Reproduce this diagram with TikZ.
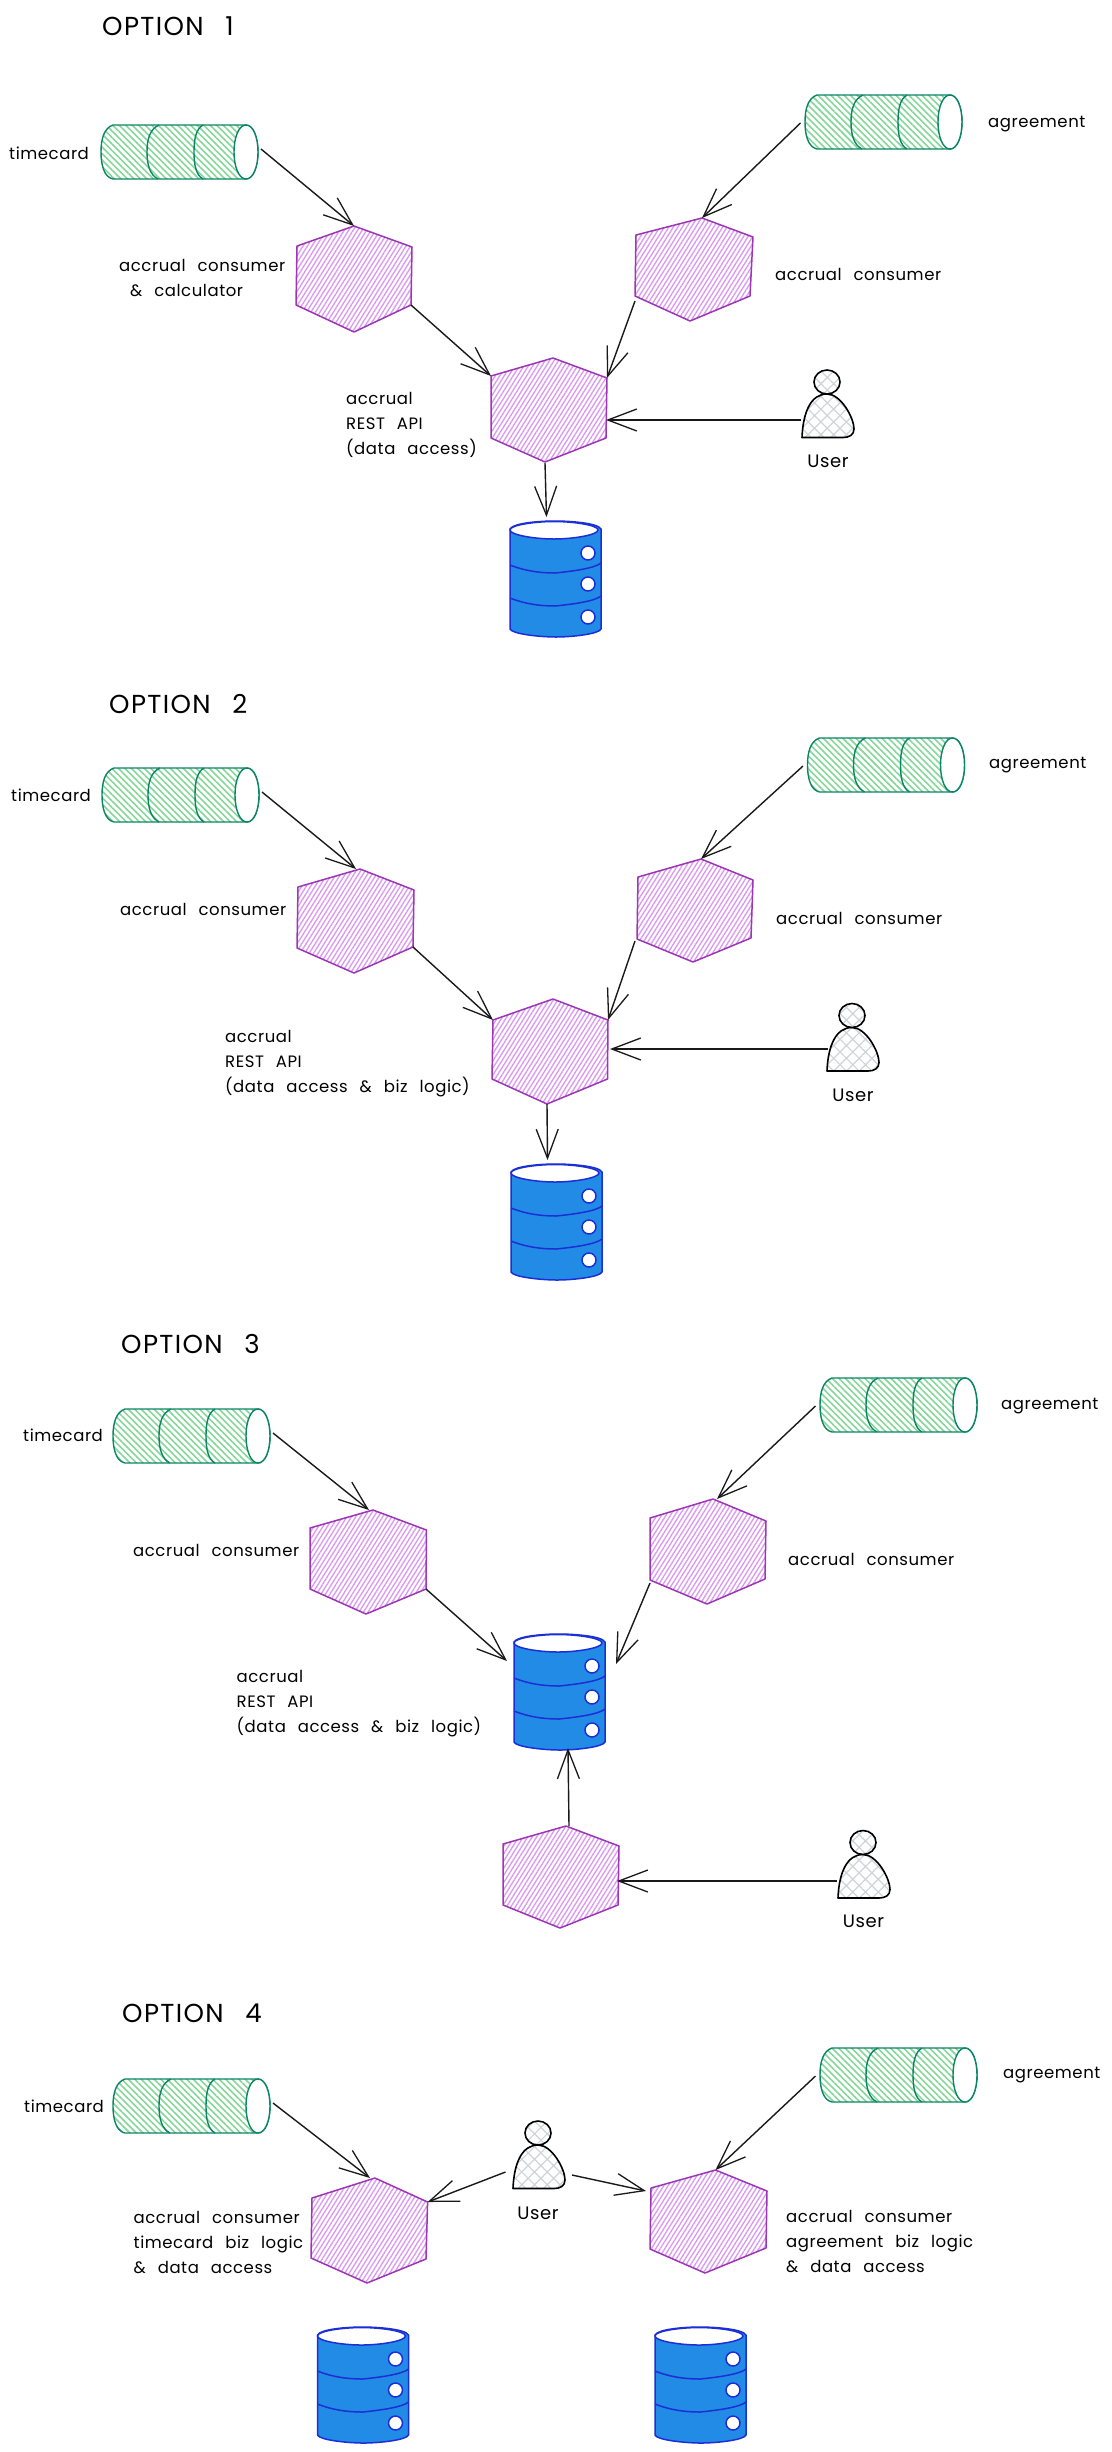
\documentclass[tikz,border=0pt]{standalone}
\usepackage{fontspec}
\setmainfont{Poppins}[LetterSpace=3.4,WordSpace=2.4]
\newfontfamily\titlefont{Poppins}[LetterSpace=5.3,WordSpace=2.6]
\usetikzlibrary{arrows.meta,patterns.meta,calc}
\definecolor{hexline}{HTML}{9C36B5}
\definecolor{hexfill}{HTML}{DA9CEE}
\definecolor{cylline}{HTML}{0B8566}
\definecolor{cylfill}{HTML}{86D699}
\definecolor{dbline}{HTML}{1C2FD6}
\definecolor{dbfill}{HTML}{228BE6}
\definecolor{userhatch}{HTML}{CED4DA}
\tikzset{
  hexshape/.style={draw=hexline,line width=1.5pt,line join=round,pattern={Lines[angle=58,distance=3.8pt,line width=1.4pt]},pattern color=hexfill},
  cylshape/.style={draw=cylline,line width=1.4pt,line join=round,pattern={Lines[angle=-45,distance=4.6pt,line width=1.6pt]},pattern color=cylfill},
  cylline/.style={draw=cylline,line width=1.4pt},
  dbbody/.style={draw=dbline,line width=1.5pt,fill=dbfill,line join=round},
  dbwhite/.style={draw=dbline,line width=1.5pt,fill=white},
  usershape/.style={draw=black,line width=1.6pt,line join=round,pattern={Hatch[angle=45,distance=9pt,line width=1.2pt]},pattern color=userhatch},
  flow/.style={draw=black!90,line width=1.4pt,-{Straight Barb[length=29pt,width=22pt,line width=1.3pt]}},
  lab/.style={anchor=base west,inner sep=0pt,align=left,font=\fontsize{16.5}{24.8}\selectfont},
  userlab/.style={anchor=base,inner sep=0pt,font=\fontsize{18}{24.8}\selectfont},
  titlelab/.style={anchor=base west,inner sep=0pt,font=\titlefont\fontsize{26}{30}\selectfont},
}
\newcommand{\hexa}[7]{%
  \coordinate (#1-t) at (#2); \coordinate (#1-rt) at (#3); \coordinate (#1-rb) at (#4);
  \coordinate (#1-b) at (#5); \coordinate (#1-lb) at (#6); \coordinate (#1-lt) at (#7);
  \path[hexshape] (#1-t)--(#1-rt)--(#1-rb)--(#1-b)--(#1-lb)--(#1-lt)--cycle;}
\newcommand{\cyl}[3]{%
  \begin{scope}[shift={(#2,#3)}]
  \coordinate (#1-r) at (160,24); \coordinate (#1-l) at (-4.5,28);
  \path[cylshape] (12,0) -- (145,0) .. controls (152,0) and (157,12) .. (157,27) .. controls (157,42) and (152,54) .. (145,54) -- (12,54) .. controls (3,52) and (0,40) .. (0,27) .. controls (0,14) and (3,3) .. (12,0) -- cycle;
  \draw[cylline] (58,0) .. controls (49,4) and (46,14) .. (46,27) .. controls (46,40) and (49,50) .. (57,54);
  \draw[cylline] (102,0) .. controls (95,4) and (93,14) .. (93,27) .. controls (93,40) and (95,50) .. (102,54);
  \draw[cylline,fill=white] (145,0) .. controls (152,0) and (157,12) .. (157,27) .. controls (157,42) and (152,54) .. (145,54) .. controls (138,54) and (133,42) .. (133,27) .. controls (133,12) and (138,0) .. (145,0) -- cycle;
  \end{scope}}
\newcommand{\dbase}[3]{%
  \begin{scope}[shift={(#2,#3)}]
  \coordinate (#1-n) at (36.5,-4); \coordinate (#1-s) at (54,114); \coordinate (#1-w) at (-7,27); \coordinate (#1-e) at (102,30);
  \path[dbbody] (0,8) -- (0,108) .. controls (2,113) and (30,116) .. (46,116) .. controls (62,116) and (89,113) .. (91,108) -- (91,8) .. controls (88,2) and (60,0) .. (45,0) .. controls (30,0) and (3,2) .. (0,8) -- cycle;
  \draw[dbwhite] (0,9) .. controls (0,4) and (25,0.5) .. (44,0.5) .. controls (63,0.5) and (88,4) .. (88,9) .. controls (88,14) and (63,18) .. (44,18) .. controls (25,18) and (0,14) .. (0,9) -- cycle;
  \draw[dbline,line width=1.5pt] (0,44) .. controls (15,50) and (30,52) .. (45,52) .. controls (65,50) and (85,47) .. (91,42);
  \draw[dbline,line width=1.5pt] (0,77) .. controls (15,83) and (30,85) .. (45,85) .. controls (65,83) and (85,80) .. (91,75);
  \draw[dbwhite] (78,32) circle[radius=7pt];
  \draw[dbwhite] (78,63) circle[radius=7pt];
  \draw[dbwhite] (78,96) circle[radius=7pt];
  \end{scope}}
\newcommand{\person}[3]{%
  \begin{scope}[shift={(#2,#3)}]
  \coordinate (#1-w) at (-26,37);
  \path[usershape] (-25,55.5) .. controls (-24,30) and (-16,12) .. (0,12) .. controls (14,12) and (27,36) .. (27,47) .. controls (27,53) and (22,55.5) .. (16,55.5) -- cycle;
  \path[usershape] (0,0) circle[x radius=13pt,y radius=12pt];
  \end{scope}}
\begin{document}
\begin{tikzpicture}[x=1pt,y=-1pt]
\useasboundingbox (0,0) rectangle (1111,2452);
% OPTION 1
\node[titlelab] (title1) at (102,35) {OPTION 1};
\cyl{c1t}{101}{125}
\cyl{c1r}{805}{95}
\hexa{h1a}{354,226}{412,247}{411,305}{354,332}{296,305}{297,246}
\hexa{h1b}{702,218}{753,237}{750,296}{690,321}{635,296}{636,235}
\hexa{h1c}{553,358}{607,378}{606,438}{545,462}{491,438}{491,376}
\dbase{d1}{510}{521}
\person{p1}{827}{382}
\coordinate (h1c-in) at (606,420);
\node[lab] (t1) at (9,159) {timecard};
\node[lab] (a1) at (988,127) {agreement};
\node[lab] (l1a) at (119,296) {accrual consumer\\\hspace*{11pt}\& calculator};
\node[lab] (l1b) at (775,280) {accrual consumer};
\node[lab] (l1c) at (346,454) {accrual\\REST API\\(data access)};
\node[userlab] (u1) at (828,467) {User};
\draw[flow] (c1t-r) -- (h1a-t);
\draw[flow] (c1r-l) -- (h1b-t);
\draw[flow] (h1a-rb) -- (h1c-lt);
\draw[flow] ([yshift=-5pt]h1b-lb) -- (h1c-rt);
\draw[flow] ([yshift=-1pt]p1-w) -- (h1c-in);
\draw[flow] ([yshift=-1pt]h1c-b) -- (d1-n);
% OPTION 2
\node[titlelab] (title2) at (109,713) {OPTION 2};
\cyl{c2t}{102}{768}
\cyl{c2r}{807.5}{738}
\hexa{h2a}{360,869}{414,890}{413,947}{354,973}{297,948}{298,887}
\hexa{h2b}{701,859}{753,880}{751,938}{693,962}{637,939}{638,877}
\hexa{h2c}{553,999}{608,1020}{607.5,1079}{547,1104}{492,1079}{493,1020}
\dbase{d2}{511}{1164}
\person{p2}{852}{1015.5}
\coordinate (h2c-in) at (610,1049);
\node[lab] (t2) at (11,801) {timecard};
\node[lab] (a2) at (989,768) {agreement};
\node[lab] (l2a) at (120,915) {accrual consumer};
\node[lab] (l2b) at (776,924) {accrual consumer};
\node[lab] (l2c) at (225,1092) {accrual\\REST API\\(data access \& biz logic)};
\node[userlab] (u2) at (853,1101) {User};
\draw[flow] (c2t-r) -- ([xshift=-4pt]h2a-t);
\draw[flow] (c2r-l) -- (h2b-t);
\draw[flow] (h2a-rb) -- (h2c-lt);
\draw[flow] ([xshift=-2pt,yshift=-2pt]h2b-lb) -- (h2c-rt);
\draw[flow] ([xshift=2pt,yshift=3.5pt]p2-w) -- (h2c-in);
\draw[flow] (h2c-b) -- (d2-n);
% OPTION 3
\node[titlelab] (title3) at (121,1353) {OPTION 3};
\cyl{c3t}{113}{1409}
\cyl{c3r}{820}{1378}
\hexa{h3a}{373,1510}{426.5,1530}{426,1589}{366,1614}{310,1589}{310,1528}
\hexa{h3b}{713,1499}{766,1521}{765,1579}{707,1604}{650,1580}{650,1518}
\hexa{h3c}{566,1826}{619,1846}{618,1905}{560,1928}{503,1905}{503,1844}
\dbase{d3}{514}{1634}
\person{p3}{863}{1842.5}
\coordinate (h3c-in) at (617,1881);
\node[lab] (t3) at (23,1441) {timecard};
\node[lab] (a3) at (1001,1409) {agreement};
\node[lab] (l3a) at (133,1556) {accrual consumer};
\node[lab] (l3b) at (788,1565.5) {accrual consumer};
\node[lab] (l3c) at (236.5,1732) {accrual\\REST API\\(data access \& biz logic)};
\node[userlab] (u3) at (863.5,1927) {User};
\draw[flow] (c3t-r) -- ([xshift=-4pt]h3a-t);
\draw[flow] (c3r-l) -- ([xshift=4pt]h3b-t);
\draw[flow] (h3a-rb) -- (d3-w);
\draw[flow] ([yshift=-3pt]h3b-lb) -- (d3-e);
\draw[flow] ([xshift=3pt]h3c-t) -- (d3-s);
\draw[flow] ([yshift=-1.5pt]p3-w) -- (h3c-in);
% OPTION 4
\node[titlelab] (title4) at (122,2022) {OPTION 4};
\cyl{c4t}{113}{2079}
\cyl{c4r}{820}{2048}
\hexa{h4a}{375,2178}{427.6,2202}{426,2259}{367,2283}{311,2258}{312,2198}
\hexa{h4b}{715.5,2170}{767,2191}{766,2248}{705,2273}{650,2249}{651,2188}
\dbase{d4a}{317.5}{2327}
\dbase{d4b}{655}{2327}
\person{p4}{538}{2133}
\coordinate (p4-l) at (505.5,2172);
\coordinate (p4-r) at (572,2175);
\coordinate (h4b-in) at (646,2191);
\node[lab] (t4) at (24,2112) {timecard};
\node[lab] (a4) at (1003,2078) {agreement};
\node[lab] (l4a) at (133.5,2273) {accrual consumer\\timecard biz logic\\\& data access};
\node[lab] (l4b) at (786,2272) {accrual consumer\\agreement biz logic\\\& data access};
\node[userlab] (u4) at (538,2219) {User};
\draw[flow] (c4t-r) -- ([xshift=-5pt]h4a-t);
\draw[flow] (c4r-l) -- (h4b-t);
\draw[flow] (p4-l) -- (h4a-rt);
\draw[flow] (p4-r) -- (h4b-in);
\end{tikzpicture}
\end{document}
